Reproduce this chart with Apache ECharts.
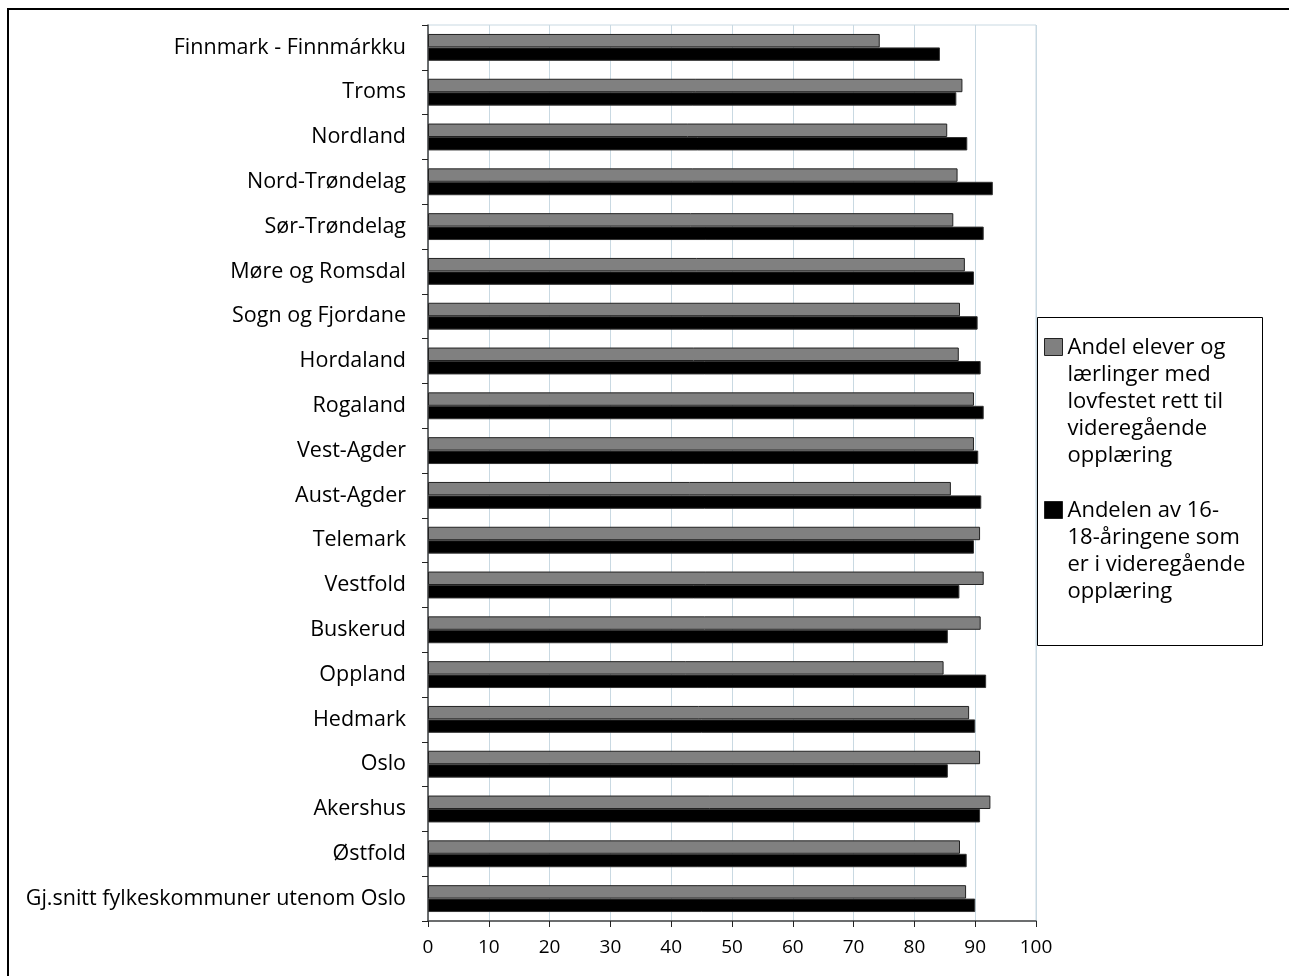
<!DOCTYPE html>
<html>
<head>
<meta charset="utf-8">
<script src="https://cdn.jsdelivr.net/npm/echarts@6/dist/echarts.min.js"></script>
<style>
  html, body { margin: 0; padding: 0; background: #fff; }
  #chart { width: 1289px; height: 976px; }
</style>
</head>
<body>
<div id="chart"></div>
<script>
// Counties, listed top to bottom
const counties = [
  'Finnmark - Finnmárkku', 'Troms', 'Nordland', 'Nord-Trøndelag', 'Sør-Trøndelag',
  'Møre og Romsdal', 'Sogn og Fjordane', 'Hordaland', 'Rogaland', 'Vest-Agder',
  'Aust-Agder', 'Telemark', 'Vestfold', 'Buskerud', 'Oppland', 'Hedmark',
  'Oslo', 'Akershus', 'Østfold', 'Gj.snitt fylkeskommuner utenom Oslo'
];

// Share of pupils and apprentices with statutory right to upper secondary education (%)
const shareWithRight = [
  74.3, 87.9, 85.4, 87.1, 86.4, 88.3, 87.5, 87.3, 89.8, 89.8,
  86.0, 90.8, 91.4, 90.9, 84.8, 89.0, 90.8, 92.5, 87.5, 88.5
];

// Share of 16-18-year-olds in upper secondary education (%)
const shareEnrolled = [
  84.2, 86.9, 88.7, 92.9, 91.4, 89.8, 90.4, 90.9, 91.4, 90.5,
  91.0, 89.8, 87.4, 85.5, 91.8, 90.0, 85.5, 90.8, 88.6, 90.0
];

const xTicks = { min: 0, max: 100, interval: 10 };

const seriesNames = [
  'Andel elever og lærlinger med lovfestet rett til videregående opplæring',
  'Andelen av 16-18-åringene som er i videregående opplæring'
];
const legendLines = [
  ['Andel elever og', 'lærlinger med', 'lovfestet rett til', 'videregående', 'opplæring'],
  ['Andelen av 16-', '18-åringene som', 'er i videregående', 'opplæring']
];

const FONT = '"Open Sans", "Noto Sans", sans-serif';
const LEGEND_LH = 27;
const GRID_COLOR = '#c9d9e2';

const chart = echarts.init(document.getElementById('chart'), null, { renderer: 'canvas' });

// Legend entry whose swatch sits beside the first text line: the icon path spans the
// full height of the text block, but only its top part is a filled square.
function legendFor(idx, top) {
  const lines = legendLines[idx];
  const blockH = lines.length * LEGEND_LH;
  return {
    data: [seriesNames[idx]],
    left: 1044,
    top: top,
    padding: 0,
    icon: 'path://M0,0M0,' + blockH + 'M0,4H18V21H0Z',
    itemWidth: 18,
    itemHeight: blockH,
    itemStyle: { borderColor: '#222', borderWidth: 1 },
    selectedMode: false,
    formatter: () => lines.join('\n'),
    textStyle: {
      fontFamily: FONT,
      fontSize: 22,
      color: '#000',
      lineHeight: LEGEND_LH
    }
  };
}

chart.setOption({
  backgroundColor: '#fff',
  animation: false,
  graphic: [
    {
      type: 'rect',
      shape: { x: 8, y: 9, width: 1400, height: 1100 },
      style: { fill: 'none', stroke: '#000', lineWidth: 2 },
      silent: true,
      z: 0
    },
    {
      type: 'rect',
      shape: { x: 1037.5, y: 317.5, width: 225, height: 328 },
      style: { fill: 'none', stroke: '#000', lineWidth: 1 },
      silent: true,
      z: 0
    }
  ],
  legend: [legendFor(0, 334), legendFor(1, 497)],
  grid: {
    left: 428, top: 25, right: 253, bottom: 55,
    show: true,
    borderColor: GRID_COLOR,
    borderWidth: 1,
    backgroundColor: 'transparent'
  },
  xAxis: {
    type: 'value',
    min: xTicks.min, max: xTicks.max, interval: xTicks.interval,
    axisLine: { show: true, lineStyle: { color: '#444', width: 1.5 } },
    axisTick: { show: true, length: 6, lineStyle: { color: '#222' } },
    splitLine: { show: true, lineStyle: { color: GRID_COLOR, width: 1 } },
    axisLabel: { fontFamily: FONT, fontSize: 19, color: '#000', margin: 17 }
  },
  yAxis: {
    type: 'category',
    data: counties,
    inverse: true,
    axisLine: { show: true, lineStyle: { color: '#444', width: 1.5 } },
    axisTick: { show: true, length: 6, inside: false, lineStyle: { color: '#222' } },
    axisLabel: { fontFamily: FONT, fontSize: 21.5, color: '#000', margin: 22 }
  },
  series: [
    {
      name: seriesNames[0],
      type: 'bar',
      data: shareWithRight,
      barGap: '0%',
      barCategoryGap: '40%',
      itemStyle: { color: '#808080', borderColor: '#222', borderWidth: 1 }
    },
    {
      name: seriesNames[1],
      type: 'bar',
      data: shareEnrolled,
      barGap: '0%',
      barCategoryGap: '40%',
      itemStyle: { color: '#000', borderColor: '#333', borderWidth: 1 }
    }
  ]
});
</script>
</body>
</html>
